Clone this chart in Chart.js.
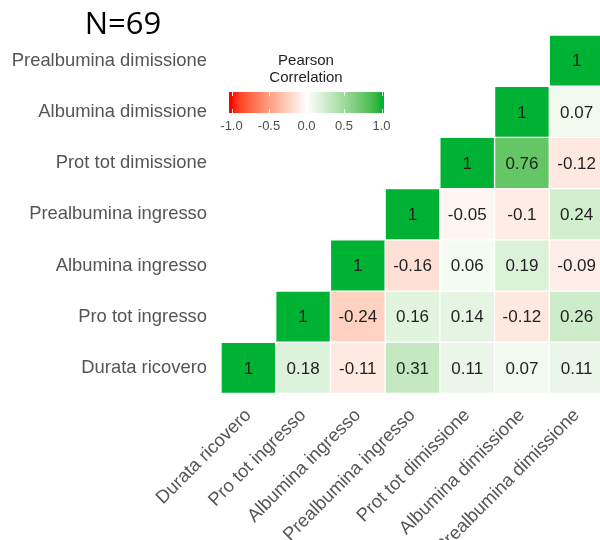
<!DOCTYPE html>
<html>
<head>
<meta charset="utf-8">
<script src="https://cdn.jsdelivr.net/npm/chart.js@4/dist/chart.umd.min.js"></script>
<style>
  html, body { margin: 0; padding: 0; background: #fff; }
  #wrap { width: 600px; height: 540px; overflow: hidden; }
</style>
</head>
<body>
<div id="wrap"><canvas id="corr" width="606" height="540"></canvas></div>
<script>
// variabili, dal basso verso l'alto (righe) e da sinistra a destra (colonne)
const VARIABLES = [
  'Durata ricovero',
  'Pro tot ingresso',
  'Albumina ingresso',
  'Prealbumina ingresso',
  'Prot tot dimissione',
  'Albumina dimissione',
  'Prealbumina dimissione'
];

// correlazioni di Pearson, una riga per variabile (dalla diagonale in poi)
const durataRicovero        = [1, 0.18, -0.11, 0.31, 0.11, 0.07, 0.11];
const proTotIngresso        = [1, -0.24, 0.16, 0.14, -0.12, 0.26];
const albuminaIngresso      = [1, -0.16, 0.06, 0.19, -0.09];
const prealbuminaIngresso   = [1, -0.05, -0.1, 0.24];
const protTotDimissione     = [1, 0.76, -0.12];
const albuminaDimissione    = [1, 0.07];
const prealbuminaDimissione = [1];

const ROWS = [durataRicovero, proTotIngresso, albuminaIngresso, prealbuminaIngresso,
  protTotDimissione, albuminaDimissione, prealbuminaDimissione];

const LEGEND_TICKS = [-1.0, -0.5, 0.0, 0.5, 1.0];
const N_LABEL = 'N=69';

// --- scala colori rosso / bianco / verde interpolata in Lab ---
function toLin(c) { c /= 255; return c <= 0.04045 ? c / 12.92 : Math.pow((c + 0.055) / 1.055, 2.4); }
function fromLin(c) { c = c <= 0.0031308 ? 12.92 * c : 1.055 * Math.pow(c, 1 / 2.4) - 0.055; return Math.round(Math.min(1, Math.max(0, c)) * 255); }
function rgbToLab([r, g, b]) {
  r = toLin(r); g = toLin(g); b = toLin(b);
  let x = (r * 0.4124 + g * 0.3576 + b * 0.1805) / 0.95047;
  let y = (r * 0.2126 + g * 0.7152 + b * 0.0722);
  let z = (r * 0.0193 + g * 0.1192 + b * 0.9505) / 1.08883;
  const f = t => t > 0.008856 ? Math.cbrt(t) : 7.787 * t + 16 / 116;
  x = f(x); y = f(y); z = f(z);
  return [116 * y - 16, 500 * (x - y), 200 * (y - z)];
}
function labToRgb([L, A, B]) {
  let y = (L + 16) / 116, x = A / 500 + y, z = y - B / 200;
  const fi = t => t * t * t > 0.008856 ? t * t * t : (t - 16 / 116) / 7.787;
  x = fi(x) * 0.95047; y = fi(y); z = fi(z) * 1.08883;
  const r = x * 3.2406 + y * -1.5372 + z * -0.4986;
  const g = x * -0.9689 + y * 1.8758 + z * 0.0415;
  const b = x * 0.0557 + y * -0.2040 + z * 1.0570;
  return [fromLin(r), fromLin(g), fromLin(b)];
}
const LAB_LOW = rgbToLab([255, 0, 0]);
const LAB_MID = rgbToLab([255, 255, 255]);
const LAB_HIGH = rgbToLab([0, 178, 51]);
function corrColor(v) {
  const end = v < 0 ? LAB_LOW : LAB_HIGH;
  const t = Math.min(1, Math.abs(v));
  const lab = LAB_MID.map((m, k) => m + (end[k] - m) * t);
  const [r, g, b] = labToRgb(lab);
  return `rgb(${r},${g},${b})`;
}

// un dataset per riga: barre flottanti alte una riga
const datasets = ROWS.map((vals, i) => {
  const full = VARIABLES.map((_, j) => (j >= i ? vals[j - i] : null));
  return {
    label: VARIABLES[i],
    data: full.map(v => (v === null ? null : [i - 0.5, i + 0.5])),
    corr: full,
    backgroundColor: full.map(v => (v === null ? 'transparent' : corrColor(v))),
    borderColor: 'rgba(255,255,255,0.7)',
    borderWidth: 1,
    borderSkipped: false,
    barPercentage: 1,
    categoryPercentage: 1,
    grouped: false
  };
});

const cellLabels = {
  id: 'cellLabels',
  afterDatasetsDraw(chart) {
    const ctx = chart.ctx;
    ctx.save();
    ctx.font = '17px "Liberation Sans", Arial, sans-serif';
    ctx.fillStyle = '#222';
    ctx.textAlign = 'center';
    ctx.textBaseline = 'middle';
    chart.data.datasets.forEach((ds, di) => {
      chart.getDatasetMeta(di).data.forEach((bar, j) => {
        const v = ds.corr[j];
        if (v === null) return;
        ctx.fillText(String(v), bar.x, (bar.y + bar.base) / 2 + 1);
      });
    });
    ctx.restore();
  }
};

// titolo e barra colori della legenda
const extras = {
  id: 'extras',
  afterDraw(chart) {
    const ctx = chart.ctx;
    ctx.save();
    ctx.fillStyle = '#000';
    ctx.font = '31px "Open Sans", "Liberation Sans", sans-serif';
    ctx.textAlign = 'center';
    ctx.textBaseline = 'middle';
    ctx.fillText(N_LABEL, 123, 25);

    const x0 = 229, x1 = 384, y0 = 92, y1 = 113;
    const vMin = x0 + 2.5, vMax = x1 - 2.5;
    const px = v => vMin + (v + 1) / 2 * (vMax - vMin);
    const grad = ctx.createLinearGradient(x0, 0, x1, 0);
    for (let k = 0; k <= 40; k++) {
      const v = -1 + k / 20;
      grad.addColorStop(Math.min(1, Math.max(0, (px(v) - x0) / (x1 - x0))), corrColor(v));
    }
    ctx.fillStyle = grad;
    ctx.fillRect(x0, y0, x1 - x0, y1 - y0);

    ctx.strokeStyle = 'rgba(255,255,255,0.9)';
    ctx.lineWidth = 1;
    LEGEND_TICKS.forEach(v => {
      const x = Math.round(px(v)) + 0.5;
      ctx.beginPath(); ctx.moveTo(x, y0); ctx.lineTo(x, y0 + 4); ctx.stroke();
      ctx.beginPath(); ctx.moveTo(x, y1 - 4); ctx.lineTo(x, y1); ctx.stroke();
    });

    ctx.fillStyle = '#1f1f1f';
    ctx.font = '15px "Liberation Sans", Arial, sans-serif';
    ctx.fillText('Pearson', 306, 61);
    ctx.fillText('Correlation', 306, 78);

    ctx.fillStyle = '#4d4d4d';
    ctx.font = '13px "Liberation Sans", Arial, sans-serif';
    LEGEND_TICKS.forEach(v => ctx.fillText(v.toFixed(1), px(v), 126));
    ctx.restore();
  }
};

new Chart(document.getElementById('corr'), {
  type: 'bar',
  data: { labels: VARIABLES, datasets: datasets },
  options: {
    responsive: false,
    animation: false,
    layout: { padding: { top: 35, right: 2, bottom: 0, left: 0 } },
    plugins: { legend: { display: false }, tooltip: { enabled: false } },
    scales: {
      x: {
        grid: { display: false, drawTicks: false },
        border: { display: false },
        ticks: {
          color: '#555',
          font: { family: '"Liberation Sans", Arial, sans-serif', size: 18.4 },
          minRotation: 45,
          maxRotation: 45,
          padding: 11,
          autoSkip: false
        },
        afterFit(scale) { scale.height = 146.5; }
      },
      y: {
        min: -0.5,
        max: 6.5,
        grid: { display: false, drawTicks: false },
        border: { display: false },
        afterBuildTicks(scale) { scale.ticks = VARIABLES.map((_, i) => ({ value: i })); },
        ticks: {
          color: '#555',
          font: { family: '"Liberation Sans", Arial, sans-serif', size: 18.4 },
          padding: 14,
          callback: v => VARIABLES[v]
        },
        afterFit(scale) { scale.width = 221; }
      }
    }
  },
  plugins: [cellLabels, extras]
});
</script>
</body>
</html>
